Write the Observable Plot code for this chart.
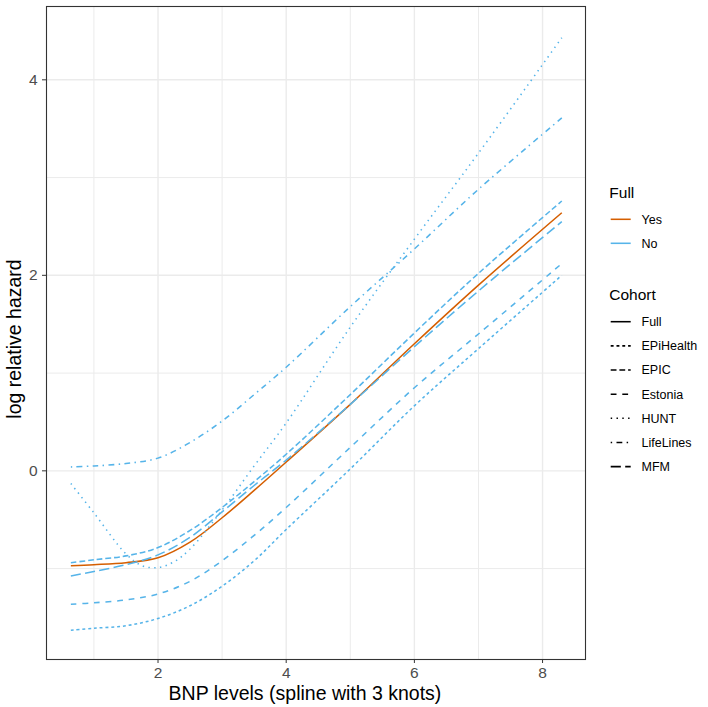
<!DOCTYPE html>
<html>
<head>
<meta charset="utf-8">
<script src="https://cdn.jsdelivr.net/npm/d3@7"></script>
<script src="https://cdn.jsdelivr.net/npm/@observablehq/plot@0.6"></script>
<style>
  html, body { margin: 0; padding: 0; background: #ffffff; }
  #chart { width: 708px; height: 707px; }
</style>
</head>
<body>
<div id="chart"></div>
<script>
// ---- data ----
const xs = [0.64, 1, 1.5, 2, 2.5, 3, 3.5, 4, 5, 6, 7, 8.3];
const huntX = [0.64, 1, 1.5, 1.75, 2, 2.25, 2.5, 3, 3.5, 4, 5, 6, 7, 8.3];

const fullY      = [-0.97, -0.96, -0.94, -0.89, -0.73, -0.48, -0.20, 0.09, 0.68, 1.30, 1.90, 2.64];
const epihealthY = [-1.63, -1.61, -1.585, -1.51, -1.38, -1.18, -0.92, -0.60, 0.02, 0.665, 1.25, 2.00];
const epicY      = [-0.94, -0.91, -0.87, -0.785, -0.61, -0.375, -0.11, 0.17, 0.78, 1.41, 2.02, 2.76];
const estoniaY   = [-1.365, -1.35, -1.32, -1.26, -1.13, -0.92, -0.66, -0.375, 0.24, 0.85, 1.40, 2.12];
const huntY      = [-0.13, -0.43, -0.85, -0.97, -0.99, -0.93, -0.80, -0.40, 0.05, 0.49, 1.47, 2.37, 3.25, 4.43];
const lifelinesY = [0.04, 0.05, 0.075, 0.13, 0.29, 0.51, 0.78, 1.06, 1.68, 2.27, 2.88, 3.61];
const mfmY       = [-1.075, -1.03, -0.96, -0.86, -0.68, -0.42, -0.15, 0.11, 0.68, 1.27, 1.84, 2.55];

const cohorts   = ["Full", "EPiHealth", "EPIC", "Estonia", "HUNT", "LifeLines", "MFM"];
const fullFlag  = ["Yes", "No", "No", "No", "No", "No", "No"];
const fullLevels = ["Yes", "No"];
const fullColors = ["#D55E00", "#56B4E9"];
// ggplot default linetypes: solid, 22, 42, 44, 13, 1343, 73
const linetypes = ["", "22", "42", "44", "13", "1343", "73"];

const xTicks = [2, 4, 6, 8];
const xMinor = [1, 3, 5, 7];
const yTicks = [0, 2, 4];
const yMinor = [-1, 1, 3];

const xTitle = "BNP levels (spline with 3 knots)";
const yTitle = "log relative hazard";
const colorTitle = "Full";
const ltyTitle = "Cohort";

// ---- build tables ----
const seriesY = [fullY, epihealthY, epicY, estoniaY, huntY, lifelinesY, mfmY];
const seriesX = cohorts.map(c => c === "HUNT" ? huntX : xs);
const tables = cohorts.map((c, i) => seriesX[i].map((x, j) => ({cohort: c, full: fullFlag[i], x, y: seriesY[i][j]})));

const unit = 1.45;
const dash = lt => lt === "" ? null : lt.split("").map(d => +d * unit).join(",");
const colorOf = f => fullColors[fullLevels.indexOf(f)];
const LW = 1.55;

const lineMarks = cohorts.map((c, i) => Plot.line(tables[i], {
  x: "x", y: "y",
  stroke: colorOf(fullFlag[i]),
  strokeWidth: LW,
  strokeDasharray: dash(linetypes[i]),
  strokeLinecap: "butt",
  curve: "catmull-rom"
}));

const W = 708, H = 707;
const plot = Plot.plot({
  width: W, height: H,
  marginLeft: 46, marginRight: 123, marginTop: 6, marginBottom: 48,
  style: {fontFamily: "'Liberation Sans', Arial, Helvetica, sans-serif", background: "#ffffff"},
  x: {domain: [0.26, 8.67], label: null},
  y: {domain: [-1.93, 4.75], label: null},
  marks: [
    Plot.gridX(xMinor, {stroke: "#ebebeb", strokeOpacity: 1, strokeWidth: 1.0}),
    Plot.gridY(yMinor, {stroke: "#ebebeb", strokeOpacity: 1, strokeWidth: 1.0}),
    Plot.gridX(xTicks, {stroke: "#ebebeb", strokeOpacity: 1, strokeWidth: 1.4}),
    Plot.gridY(yTicks, {stroke: "#ebebeb", strokeOpacity: 1, strokeWidth: 1.4}),
    ...lineMarks,
    Plot.frame({stroke: "#333333", strokeWidth: 1.1}),
    Plot.axisX(xTicks, {tickSize: 4, tickPadding: 3, fontSize: 15.5, stroke: "#333333", fill: "#4d4d4d", label: null, tickFormat: d => String(d)}),
    Plot.axisY(yTicks, {tickSize: 4, tickPadding: 5, fontSize: 15.5, stroke: "#333333", fill: "#4d4d4d", label: null, tickFormat: d => String(d)})
  ]
});
document.getElementById("chart").appendChild(plot);

// ---- axis titles and legends ----
const svg = d3.select(plot);
const font = "'Liberation Sans', Arial, Helvetica, sans-serif";

svg.append("text")
  .attr("x", 305).attr("y", 700)
  .attr("text-anchor", "middle")
  .attr("font-family", font).attr("font-size", 19.5).attr("fill", "#000")
  .text(xTitle);

svg.append("text")
  .attr("transform", "translate(21,339) rotate(-90)")
  .attr("text-anchor", "middle")
  .attr("font-family", font).attr("font-size", 19.5).attr("fill", "#000")
  .text(yTitle);

const lg = svg.append("g").attr("font-family", font).attr("text-anchor", "start");
const keyX1 = 610.7, keyX2 = 630.7, labX = 641.5;

lg.append("text").attr("x", 609.3).attr("y", 198).attr("text-anchor", "start")
  .attr("font-size", 15.5).attr("fill", "#000").text(colorTitle);
fullLevels.forEach((lv, i) => {
  const y = 219.3 + i * 24;
  lg.append("line").attr("x1", keyX1).attr("x2", keyX2).attr("y1", y).attr("y2", y)
    .attr("stroke", fullColors[i]).attr("stroke-width", LW);
  lg.append("text").attr("x", labX).attr("y", y).attr("dy", "0.35em").attr("text-anchor", "start")
    .attr("font-size", 12.5).attr("fill", "#000").text(lv);
});

lg.append("text").attr("x", 609.3).attr("y", 300).attr("text-anchor", "start")
  .attr("font-size", 15.5).attr("fill", "#000").text(ltyTitle);
cohorts.forEach((c, i) => {
  const y = 321.7 + i * 24.15;
  const l = lg.append("line").attr("x1", keyX1).attr("x2", keyX2).attr("y1", y).attr("y2", y)
    .attr("stroke", "#000").attr("stroke-width", LW);
  const d = dash(linetypes[i]);
  if (d) l.attr("stroke-dasharray", d);
  lg.append("text").attr("x", labX).attr("y", y).attr("dy", "0.35em").attr("text-anchor", "start")
    .attr("font-size", 12.5).attr("fill", "#000").text(c);
});
</script>
</body>
</html>
